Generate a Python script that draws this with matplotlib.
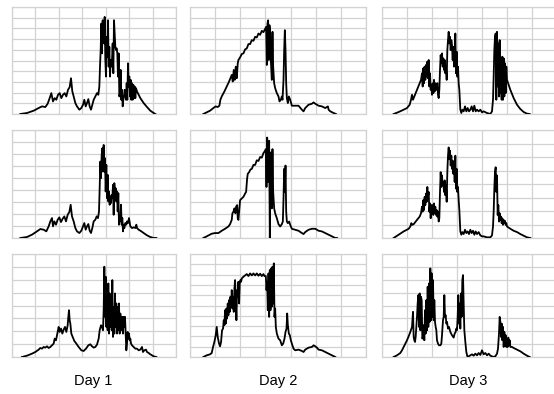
import numpy as np
import matplotlib
matplotlib.use("Agg")
import matplotlib.pyplot as plt

plt.rcParams['font.family'] = ['Liberation Sans', 'DejaVu Sans']

# ---------------- data (time in minutes from panel start, value in arbitrary units) -------------
day_labels = ["Day 1", "Day 2", "Day 3"]

# Row 1
r1d1_t = [25,45,65,80,90,100,107,113,118,123,128,133,138,143,148,153,158,163,168,173,177,181,185,190,195,202,208,213,217,221,225,229,233,237,241,245,250,255,259,262,264,266,268,270,272,274,276,278,280,282,284,286,288,290,292,294,296,298,300,302,304,306,308,310,312,314,316,318,320,322,324,326,328,330,332,334,336,338,340,342,344,346,348,350,352,354,356,358,360,362,364,366,368,370,372,375,380,385,395,405,415,425,430]
r1d1_v = [0,3,10,18,23,21,31,48,63,38,48,43,58,63,48,58,63,53,73,81,108,68,53,33,23,13,18,28,43,23,33,45,23,13,28,43,53,63,58,83,143,193,273,183,283,253,213,293,163,113,233,173,283,143,203,113,163,143,163,213,123,283,243,203,193,198,183,113,183,53,63,133,43,73,23,43,53,73,63,43,93,43,153,83,113,53,103,43,93,43,88,48,83,48,78,68,58,48,33,21,10,3,0]

r1d2_t = [40,50,60,70,77,83,88,91,95,103,110,117,125,128,131,134,137,140,143,145,150,155,160,165,170,175,180,185,190,195,200,205,210,215,220,225,228,230,232,234,236,238,240,242,245,247,249,252,255,260,265,268,272,275,277,280,282,284,286,288,290,293,296,300,305,315,325,335,340,345,355,365,370,375,380,385,395,405,413,415,420,430,437]
r1d2_v = [0,5,10,18,23,21,25,43,53,68,83,98,118,98,133,103,143,108,153,163,171,181,183,195,198,211,211,223,221,233,231,243,239,251,247,257,263,148,273,283,163,268,243,163,103,248,143,93,78,63,53,38,43,53,43,103,193,253,193,93,48,33,53,43,25,25,25,13,8,18,28,31,35,31,28,25,23,18,23,13,8,3,0]

r1d3_t = [35,50,65,75,83,87,90,93,97,105,113,117,120,122,124,126,128,130,132,134,136,138,140,142,144,146,148,150,152,154,156,158,160,162,164,166,168,170,172,174,176,178,180,182,184,186,188,190,192,194,196,198,200,202,204,206,208,210,212,214,216,218,220,222,224,226,228,230,232,235,238,241,245,249,253,257,261,265,269,273,277,281,285,290,295,300,305,315,325,330,333,335,337,339,341,343,345,347,349,351,353,355,357,359,361,363,365,367,369,371,373,375,380,385,395,405,415,425,435,443]
r1d3_v = [0,6,13,18,28,43,58,43,53,73,93,103,123,83,138,93,143,103,148,113,158,108,163,83,123,73,88,58,93,63,103,68,93,83,73,93,58,48,73,133,178,153,183,143,168,133,163,123,143,103,193,223,248,213,233,193,223,208,163,203,143,173,243,123,188,113,143,93,73,13,3,13,8,23,8,18,8,13,23,8,25,8,13,8,13,5,8,3,0,8,43,113,193,233,243,43,248,83,213,53,223,63,83,43,173,43,168,53,153,63,143,103,88,73,48,28,15,6,1,0]

# Row 2
r2d1_t = [25,45,60,75,85,95,103,110,115,120,123,127,132,137,142,147,152,157,162,167,172,176,180,185,190,195,202,208,213,217,221,225,229,233,237,241,245,250,254,258,261,263,265,267,269,271,273,275,277,279,281,283,285,287,289,291,293,295,297,299,301,303,305,307,309,311,313,315,317,319,321,323,325,327,329,331,333,335,337,340,343,345,348,351,355,360,365,370,373,375,380,385,395,405,415,425,433]
r2d1_v = [0,3,10,20,27,25,20,35,50,60,35,50,40,55,62,48,58,65,50,70,78,100,65,50,30,20,15,22,35,45,25,35,42,22,15,30,50,55,65,60,80,150,230,180,250,270,200,280,200,240,140,220,120,190,110,140,100,125,105,130,120,160,70,165,140,150,110,140,80,135,40,60,50,100,40,60,20,40,30,45,40,50,45,60,35,30,32,30,40,30,25,22,15,8,3,0,0]

r2d2_t = [40,50,65,75,85,95,105,115,120,123,125,127,130,133,136,138,141,143,145,147,150,155,160,165,168,171,173,177,181,185,190,195,200,205,210,215,220,225,227,229,231,233,235,237,239,241,243,245,247,249,252,255,260,265,270,275,278,280,282,284,286,288,290,293,297,300,305,315,325,335,340,345,355,365,375,385,395,405,415,425,435,440]
r2d2_v = [0,5,13,15,15,22,28,35,42,50,55,75,80,90,75,95,100,60,55,80,115,120,125,135,140,180,195,200,208,210,222,222,236,234,246,244,258,265,270,155,305,280,170,295,0,190,260,90,270,140,90,75,60,42,35,42,50,120,210,140,220,80,50,45,50,40,28,25,22,15,12,18,25,28,28,22,20,15,10,5,0,0]

r2d3_t = [35,50,65,80,85,88,91,95,105,113,117,120,122,124,126,128,130,132,134,136,138,140,142,144,146,148,150,152,154,156,158,160,162,164,166,168,170,172,174,176,178,180,182,184,186,188,190,192,194,196,198,200,202,204,206,208,210,212,214,216,218,220,222,224,226,228,230,232,235,238,241,245,249,253,257,261,265,269,273,277,281,285,290,295,300,305,315,325,330,333,335,337,339,341,343,345,347,349,351,353,355,357,359,361,363,365,367,369,371,373,375,385,395,405,415,425,435,445]
r2d3_v = [0,10,20,28,35,45,40,42,55,65,75,95,80,115,85,125,100,135,110,155,125,140,80,105,60,100,75,100,70,105,75,95,70,85,65,80,50,60,140,200,155,190,160,170,140,175,130,160,110,200,250,275,240,265,220,250,210,235,195,230,170,250,150,210,140,155,115,85,20,10,18,12,25,15,20,12,25,15,22,10,20,12,18,8,5,5,2,2,8,35,80,150,200,215,140,190,70,100,50,75,55,65,45,60,40,55,45,52,40,45,35,28,22,18,12,7,2,0]

# Row 3
r3d1_t = [30,45,60,70,80,85,90,95,100,105,110,115,120,125,128,132,135,138,140,143,147,151,155,159,163,167,169,171,173,175,178,182,187,193,200,208,215,222,229,235,240,245,250,255,260,263,267,270,273,275,277,279,281,283,285,287,289,291,293,295,297,299,301,303,305,307,309,311,313,315,317,319,321,323,325,327,329,331,333,335,337,339,341,343,345,347,349,351,353,355,357,360,365,370,375,380,385,390,393,397,402,405,410,415,425,433]
r3d1_v = [0,4,10,15,22,27,25,30,28,32,27,30,35,40,55,50,65,80,90,75,85,70,82,90,75,95,120,140,110,100,70,60,48,40,30,20,18,25,35,38,32,28,30,37,55,80,95,90,80,140,270,120,240,90,210,80,220,70,190,90,170,80,230,60,150,70,190,90,160,70,150,80,160,70,130,110,80,120,70,120,90,120,70,20,40,75,55,70,50,55,40,35,30,25,25,20,22,30,15,20,22,15,12,8,2,0]

r3d2_t = [40,50,60,65,69,73,77,80,83,87,90,93,96,99,101,103,105,107,109,111,113,115,117,119,121,123,125,127,129,131,133,135,137,139,141,143,145,147,149,151,153,155,160,165,170,175,180,185,190,195,200,205,210,215,220,223,227,229,231,233,235,237,239,241,243,245,247,249,251,253,255,257,260,265,270,275,279,283,286,289,291,293,296,299,302,305,310,315,325,335,340,345,355,365,370,375,380,385,395,405,415,425,435]
r3d2_v = [0,5,8,12,30,45,65,90,60,40,32,45,80,85,110,95,140,100,145,115,160,125,170,135,180,150,200,145,180,135,205,230,170,110,200,180,225,160,220,230,225,235,240,244,248,242,250,244,250,244,250,243,249,242,248,242,242,200,225,140,250,120,260,140,265,150,270,160,280,120,145,90,70,55,50,35,40,55,75,85,130,95,70,65,50,40,25,20,22,18,15,22,28,30,35,32,28,22,20,15,10,5,0]

r3d3_t = [35,45,55,60,65,70,75,80,85,90,93,95,97,99,101,103,105,107,109,111,113,115,117,119,121,123,125,127,129,131,133,135,137,139,141,143,145,147,149,151,153,155,157,159,161,163,165,168,171,175,178,180,183,185,187,189,191,193,195,198,201,205,210,215,218,221,223,225,227,229,231,233,235,237,239,241,243,245,247,250,253,256,260,265,270,275,280,285,290,295,300,305,310,315,320,325,330,335,340,345,348,351,353,355,357,359,361,363,365,367,369,371,373,375,377,379,381,383,385,390,395,405,415,425,435,443]
r3d3_v = [0,5,12,20,30,40,50,62,75,90,135,60,50,45,60,90,120,160,185,90,190,80,180,170,55,60,95,50,140,70,170,80,210,90,220,105,265,110,250,120,230,110,170,105,90,80,50,40,35,35,40,65,110,120,185,120,125,100,105,85,90,75,65,58,70,75,85,80,120,185,100,160,85,190,120,230,245,160,80,45,15,2,2,5,8,4,10,5,12,6,20,8,12,5,10,4,2,0,2,10,25,70,120,105,60,100,50,90,30,75,40,65,30,55,30,58,35,50,30,30,27,22,17,10,4,0]

series = [
    [(r1d1_t, r1d1_v), (r1d2_t, r1d2_v), (r1d3_t, r1d3_v)],
    [(r2d1_t, r2d1_v), (r2d2_t, r2d2_v), (r2d3_t, r2d3_v)],
    [(r3d1_t, r3d1_v), (r3d2_t, r3d2_v), (r3d3_t, r3d3_v)],
]

# ---------------- layout (pixels) ----------------
W, H = 554, 394
col_px = [(12, 176), (190, 366), (382, 557)]
row_px = [(7, 114), (130, 238), (254, 357)]
label_x = [93, 278, 468]
x_max = [492, 527, 525]
y_max = [[323, 323, 323], [325, 328, 328], [308, 308, 308]]
y_div = [[10, 10, 10], [9, 9, 8], [8, 10, 8]]
grid_col = "#d2d2d2"

fig = plt.figure(figsize=(W / 100, H / 100), dpi=100)
for r in range(3):
    for c in range(3):
        x0, x1 = col_px[c]
        y0, y1 = row_px[r]
        ax = fig.add_axes([x0 / W, 1 - y1 / H, (x1 - x0) / W, (y1 - y0) / H])
        t, v = series[r][c]
        ax.plot(t, v, color="black", lw=1.3, zorder=3)
        ax.set_xlim(0, x_max[c])
        ax.set_ylim(0, y_max[r][c])
        ax.set_xticks(np.linspace(0, x_max[c], 8))
        ax.set_yticks(np.linspace(0, y_max[r][c], y_div[r][c] + 1))
        ax.tick_params(length=0, labelbottom=False, labelleft=False)
        ax.grid(True, color=grid_col, lw=0.9)
        ax.set_axisbelow(True)
        for s in ax.spines.values():
            s.set_color(grid_col)
            s.set_linewidth(0.9)

for c in range(3):
    fig.text(label_x[c] / W, 1 - 381 / H, day_labels[c], ha="center", va="center", fontsize=10.5)

fig.savefig("out.png", dpi=100)
